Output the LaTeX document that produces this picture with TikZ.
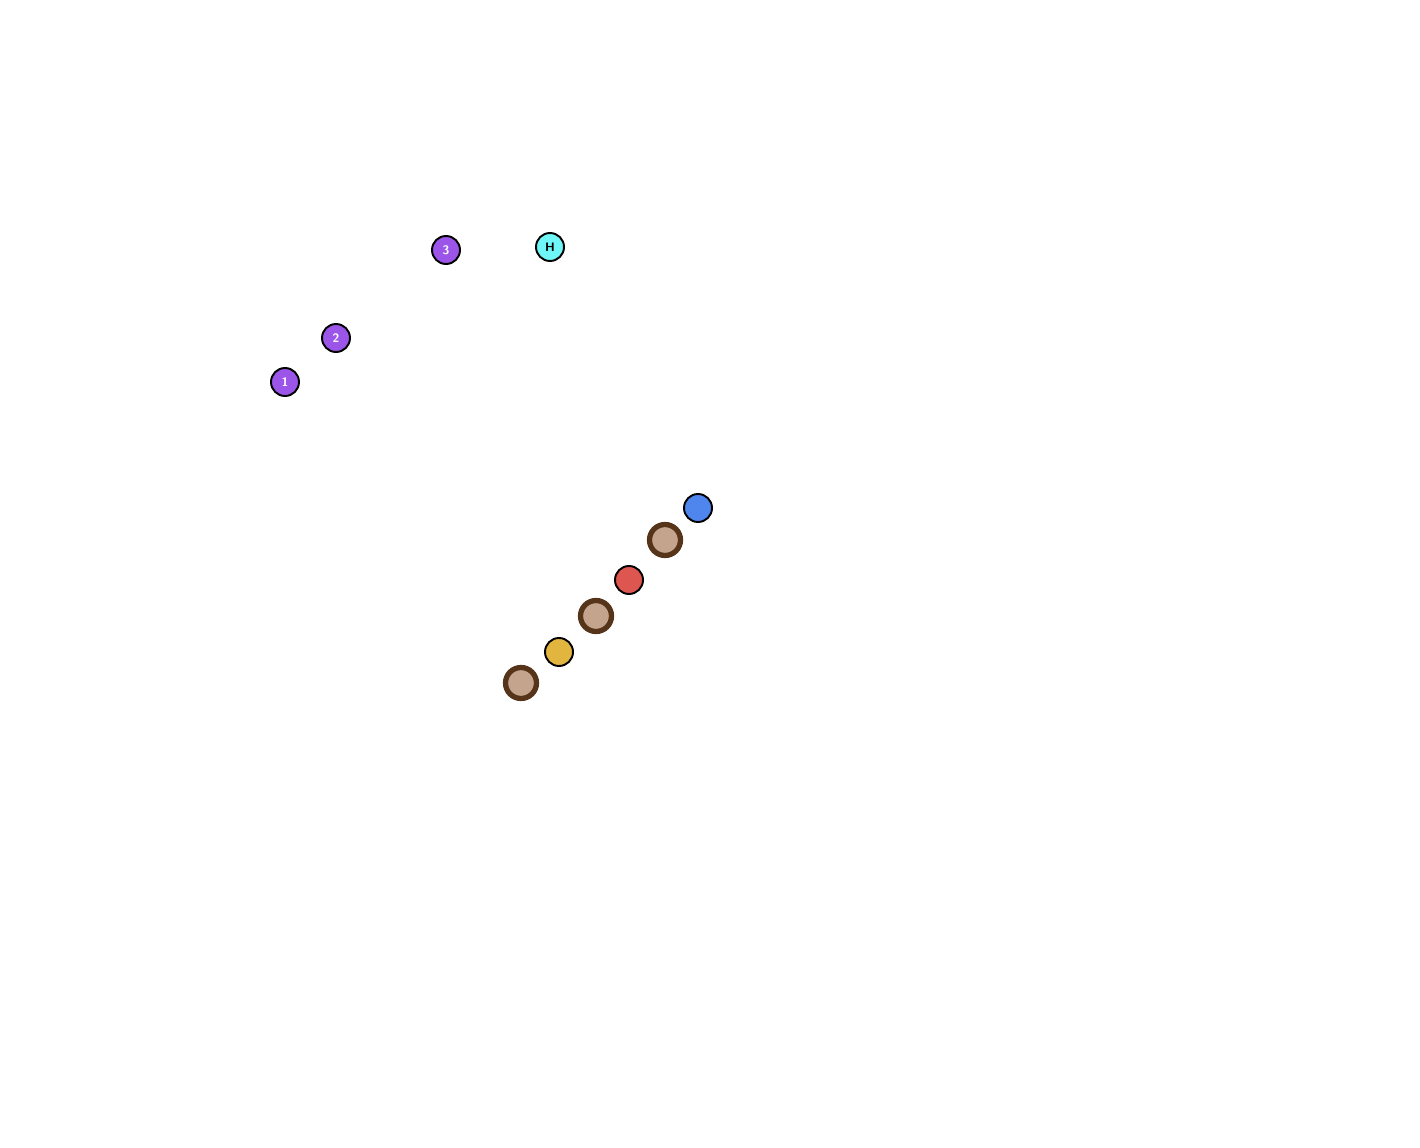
\documentclass[tikz,border=0pt]{standalone}
\usetikzlibrary{positioning}
\definecolor{pplpurple}{HTML}{9B55E8}
\definecolor{pplcyan}{HTML}{6FF6F6}
\definecolor{pplblue}{HTML}{4F86EE}
\definecolor{pplred}{HTML}{DE5650}
\definecolor{pplyellow}{HTML}{E2B63E}
\definecolor{seatfill}{HTML}{C4A48C}
\definecolor{seatring}{HTML}{56341A}
\tikzset{
  head/.style={circle, draw=black, line width=1.1pt, minimum size=28*0.02cm, inner sep=0pt,
    font=\sffamily\bfseries\fontsize{7}{7}\selectfont},
  shoulder/.style={draw=black, line width=1.1pt},
  seat/.style={circle, draw=seatring, fill=seatfill, line width=3pt, minimum size=31*0.02cm, inner sep=0pt}
}
% person: name, position, facing angle, colour, label, label colour
\newcommand{\person}[6]{%
  \begin{scope}[shift={(#2)}, rotate=#3]
    \fill[black] (0.30,0.10) -- (0.37,0) -- (0.30,-0.10) -- cycle;
    \filldraw[shoulder, fill=#4] (-0.06,0.24) circle (0.14);
    \filldraw[shoulder, fill=#4] (-0.06,-0.24) circle (0.14);
  \end{scope}
  \node[head, fill=#4, text=#6] (#1) at (#2) {#5};
}
\begin{document}
\begin{tikzpicture}[x=0.02cm, y=-0.02cm]
  \useasboundingbox (0,0) rectangle (1420,1148);
  \person{p1}{285,382}{-45}{pplpurple}{1}{white}
  \person{p2}{336,338}{-45}{pplpurple}{2}{white}
  \person{p3}{446,250}{-45}{pplpurple}{3}{white}
  \person{host}{550,247}{-90}{pplcyan}{H}{black}
  \node[seat] (seatA) at (665,540) {};
  \node[seat] (seatB) at (596,616) {};
  \node[seat] (seatC) at (521,683) {};
  \person{blue}{698,508}{135}{pplblue}{}{black}
  \person{red}{629,580}{135}{pplred}{}{black}
  \person{yellow}{559,652}{135}{pplyellow}{}{black}
\end{tikzpicture}
\end{document}
